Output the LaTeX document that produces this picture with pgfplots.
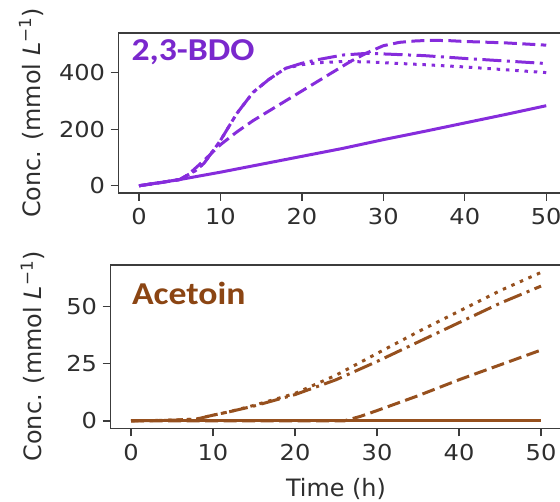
\documentclass[border=0pt]{standalone}
\usepackage{fontspec}
\setmainfont{DejaVu Sans}[FakeStretch=1.1]
\newfontfamily\labfont{DejaVu Sans}
\newfontfamily\titlefont{Carlito}[FakeStretch=1.12]
\usepackage{pgfplots}
\pgfplotsset{compat=1.18}
\definecolor{bdo}{RGB}{134,44,220}
\definecolor{bdot}{RGB}{122,40,205}
\definecolor{acet}{RGB}{150,80,30}
\definecolor{acett}{RGB}{139,69,19}
\definecolor{axc}{RGB}{60,60,60}
\pgfplotsset{
  base/.style={
    scale only axis,
    xmin=-2.5, xmax=52.5,
    xtick={0,10,20,30,40,50},
    axis line style={axc, line width=1.3bp},
    tick style={axc, line width=1.3bp},
    tick align=outside, major tick length=8bp,
    xtick pos=bottom, ytick pos=left,
    /pgf/number format/assume math mode=true,
    ticklabel style={font=\fontsize{22}{26}\selectfont, text=black!82},
    xticklabel style={yshift=-4bp},
    yticklabel style={xshift=-2bp},
    label style={font=\labfont\fontsize{24}{28}\selectfont, text=black!82},
    clip=true,
  },
  sol/.style={line width=3bp},
  dsh/.style={line width=3bp, dash pattern=on 13bp off 5.5bp},
  dd/.style={line width=3bp, dash pattern=on 19bp off 5.5bp on 3bp off 5.5bp},
  dot/.style={line width=3bp, dash pattern=on 3.5bp off 5.8bp},
}
\begin{document}
\begin{tikzpicture}[x=1bp,y=1bp]
\path[use as bounding box] (0,0) rectangle (560,502);
% top panel
\begin{axis}[base, at={(118.6bp,309bp)}, anchor=south west,
  width=448bp, height=160bp,
  ymin=-25.5, ymax=540, ytick={0,200,400},
  ylabel={Conc. (mmol \textit{L}\textsuperscript{\char"2212 1})},
  ylabel style={at={(axis description cs:-0.1955,0.5)}, anchor=center},
  ]
\addplot[bdo, sol] coordinates {(0,0)(5,22)(10,48)(15,76)(20,104)(25,132)(30,163)(35,192)(40,222)(45,252)(50,283)};
\addplot[bdo, dsh] coordinates {(0,0)(2,8)(4,17)(5,22)(6,38)(8,90)(10,145)(12,190)(14,230)(16,265)(18,300)(20,335)(22,370)(24,405)(26,440)(28,470)(30,495)(32,507)(34,512)(36,514)(38,513)(40,510)(45,505)(50,497)};
\addplot[bdo, dd] coordinates {(0,0)(5,22)(7,55)(8,80)(9,120)(10,160)(12,255)(14,330)(16,377)(18,415)(20,433)(22,446)(25,462)(28,468)(30,466)(35,460)(40,450)(45,441)(50,432)};
\addplot[bdo, dot] coordinates {(0,0)(5,22)(7,55)(8,80)(9,120)(10,160)(12,255)(14,330)(16,377)(18,415)(20,428)(22,435)(25,439)(28,438)(30,435)(35,428)(40,420)(45,410)(50,400)};
\node[anchor=west, text=bdot, font=\titlefont\bfseries\fontsize{32}{36}\selectfont] at (rel axis cs:0.021,0.881) {2,3-BDO};
\end{axis}
% bottom panel
\begin{axis}[base, at={(110.5bp,73.7bp)}, anchor=south west,
  width=451bp, height=163.3bp,
  ymin=-3.25, ymax=68.25, ytick={0,25,50},
  ylabel={Conc. (mmol \textit{L}\textsuperscript{\char"2212 1})},
  ylabel style={at={(axis description cs:-0.172,0.44)}, anchor=center},
  xlabel={Time (h)},
  xlabel style={at={(axis description cs:0.5,-0.42)}, anchor=base},
  ]
\addplot[acet, sol] coordinates {(0,0)(10,0)(20,0)(30,0)(40,0)(50,0)};
\addplot[acet, dsh] coordinates {(0,0)(26,0)(28,2)(30,4.5)(35,11)(40,18)(45,24.5)(50,31)};
\addplot[acet, dd] coordinates {(0,0)(5,0.3)(8,0.8)(10,2.5)(12,4)(15,6.5)(20,11.5)(25,18)(30,26)(35,34.5)(40,43)(45,51.5)(50,59)};
\addplot[acet, dot] coordinates {(0,0)(5,0.3)(8,0.8)(10,2.5)(12,4)(15,6.8)(20,12)(25,20)(30,29.5)(35,39)(40,48)(45,57)(50,65)};
\node[anchor=west, text=acett, font=\titlefont\bfseries\fontsize{32}{36}\selectfont] at (rel axis cs:0.04,0.825) {Acetoin};
\end{axis}
\end{tikzpicture}
\end{document}
